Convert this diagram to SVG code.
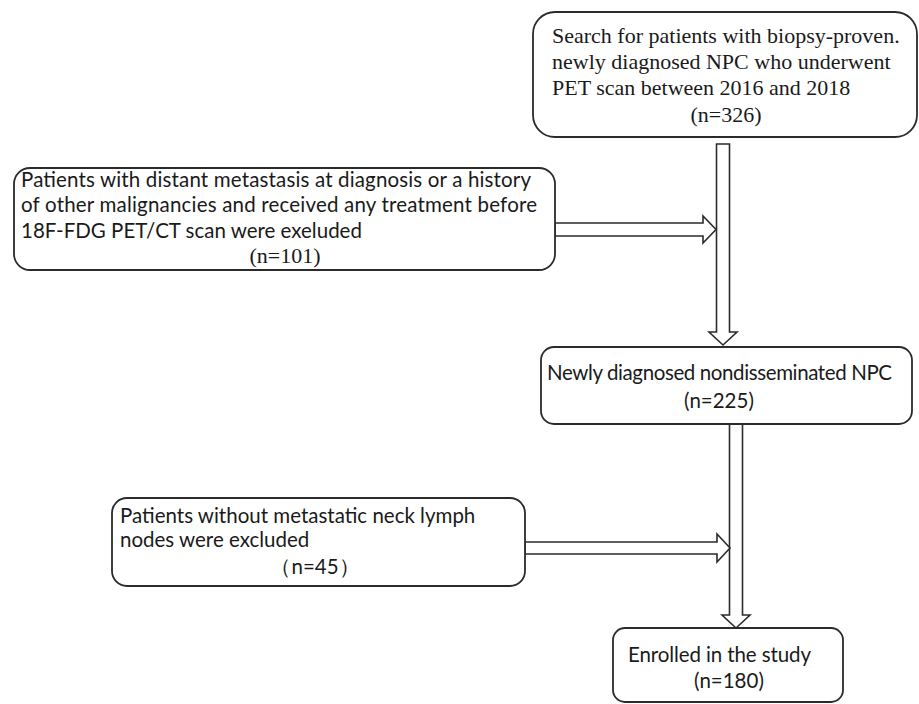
<svg xmlns="http://www.w3.org/2000/svg" width="919" height="704" viewBox="0 0 919 704">
<style>
.box{fill:#fff;stroke:#2b2b2b;stroke-width:1.8}
.arr{fill:#fff;stroke:#2b2b2b;stroke-width:1.6;stroke-linejoin:miter}
.tnr{font-family:"Liberation Serif","Times New Roman",serif;font-size:22px;fill:#1a1a1a}
.cal{font-family:Lato,"Liberation Sans",sans-serif;font-size:20.5px;fill:#1a1a1a}
</style>
<rect width="919" height="704" fill="#fff"/>
<g id="connectors">
<path class="arr" d="M716.5,144 H729.5 V332 H737 L723,345 L709,332 H716.5 Z"/>
<path class="arr" d="M555,223 H703 V216 L716,229.5 L703,243 V236 H555 Z"/>
<path class="arr" d="M729.5,424 H742.5 V615 H750 L736,628 L722,615 H729.5 Z"/>
<path class="arr" d="M525,542 H717 V534 L730,548 L717,562 V554 H525 Z"/>
</g>
<g id="node-search">
<rect class="box" x="533" y="12" width="384" height="125" rx="22"/>
<text class="tnr" x="552" y="43">Search for patients with biopsy-proven.</text>
<text class="tnr" x="552" y="69">newly diagnosed NPC who underwent</text>
<text class="tnr" x="552" y="95">PET scan between 2016 and 2018</text>
<text class="tnr" x="726" y="122" text-anchor="middle">(n=326)</text>
</g>
<g id="node-excluded1">
<rect class="box" x="14" y="168" width="541" height="102" rx="16"/>
<text class="cal" x="21" y="187" textLength="510">Patients with distant metastasis at diagnosis or a history</text>
<text class="cal" x="21" y="212" textLength="516">of other malignancies and received any treatment before</text>
<text class="cal" x="21" y="238">18F-FDG PET/CT scan were exeluded</text>
<text class="tnr" x="285" y="263" text-anchor="middle">(n=101)</text>
</g>
<g id="node-nondisseminated">
<rect class="box" x="541" y="347" width="371" height="77" rx="13"/>
<text class="cal" x="547" y="380" textLength="345">Newly diagnosed nondisseminated NPC</text>
<text class="cal" x="719" y="408" text-anchor="middle">(n=225)</text>
</g>
<g id="node-excluded2">
<rect class="box" x="112" y="498" width="413" height="88" rx="15"/>
<text class="cal" x="120" y="523">Patients without metastatic neck lymph</text>
<text class="cal" x="120" y="547">nodes were excluded</text>
<text class="cal" x="315" y="574" text-anchor="middle">（n=45）</text>
</g>
<g id="node-enrolled">
<rect class="box" x="613" y="628" width="230" height="74" rx="12"/>
<text class="cal" x="628" y="662" textLength="183">Enrolled in the study</text>
<text class="cal" x="729" y="688" text-anchor="middle">(n=180)</text>
</g>
</svg>
